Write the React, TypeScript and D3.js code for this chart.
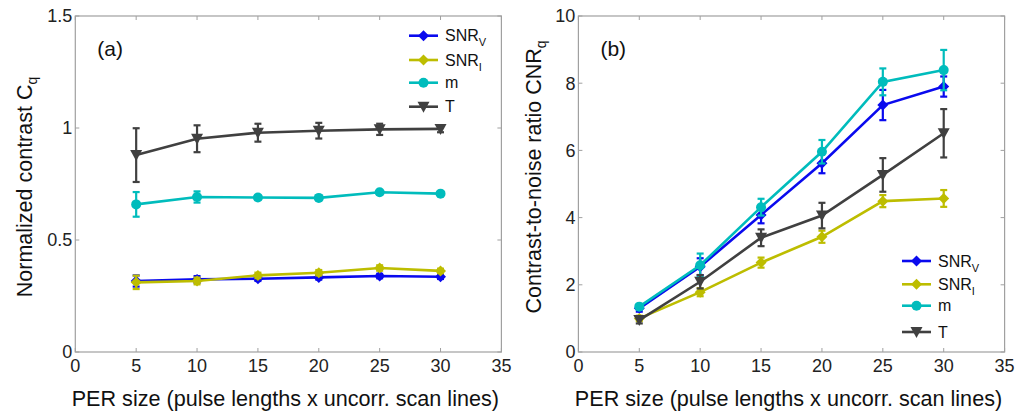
import React from "react";
import * as d3 from "d3";

const xs = [5, 10, 15, 20, 25, 30];
const xTicks = [0, 5, 10, 15, 20, 25, 30, 35];

// Panel (a): normalized contrast
const snrvA = [0.317, 0.324, 0.327, 0.333, 0.339, 0.336];
const snrvAErr = [0.025, 0.015, 0.01, 0.01, 0.01, 0.01];
const snriA = [0.311, 0.317, 0.342, 0.354, 0.375, 0.362];
const snriAErr = [0.03, 0.015, 0.012, 0.012, 0.012, 0.01];
const mA = [0.659, 0.692, 0.69, 0.688, 0.713, 0.707];
const mAErr = [0.055, 0.025, 0.01, 0.01, 0.01, 0.01];
const tA = [0.879, 0.952, 0.979, 0.988, 0.994, 0.996];
const tAErr = [0.12, 0.06, 0.04, 0.035, 0.025, 0.015];
const yTicksA = [0, 0.5, 1, 1.5];

// Panel (b): CNR
const snrvB = [1.3, 2.54, 4.08, 5.62, 7.35, 7.9];
const snrvBErr = [0.1, 0.25, 0.25, 0.3, 0.45, 0.3];
const snriB = [1.0, 1.78, 2.66, 3.43, 4.49, 4.57];
const snriBErr = [0.08, 0.12, 0.15, 0.18, 0.18, 0.25];
const mB = [1.35, 2.58, 4.31, 5.96, 8.04, 8.39];
const mBErr = [0.08, 0.35, 0.25, 0.35, 0.4, 0.6];
const tB = [0.95, 2.09, 3.4, 4.06, 5.27, 6.51];
const tBErr = [0.1, 0.2, 0.25, 0.38, 0.5, 0.72];
const yTicksB = [0, 2, 4, 6, 8, 10];

const seriesNames = ["SNRV", "SNRI", "m", "T"];
const colors = ["#0a0aee", "#bdbd00", "#00bcbc", "#404040"];
const markers = ["diamond", "diamond", "circle", "tri"];

const FONT = "'Liberation Sans', Arial, sans-serif";

function Marker({ kind, x, y, color }: { kind: string; x: number; y: number; color: string }) {
  if (kind === "circle") return <circle cx={x} cy={y} r={5} fill={color} />;
  if (kind === "diamond") {
    const s = 5.5;
    return <path d={`M${x},${y - s}L${x + s},${y}L${x},${y + s}L${x - s},${y}Z`} fill={color} />;
  }
  const w = 6, h = 5;
  return <path d={`M${x - w},${y - h}L${x + w},${y - h}L${x},${y + h + 1}Z`} fill={color} />;
}

function LegendLabel({ name }: { name: string }) {
  if (name === "SNRV" || name === "SNRI") {
    return (
      <>
        SNR<tspan fontSize={11} dy={5}>{name.slice(3)}</tspan>
      </>
    );
  }
  return <>{name}</>;
}

function Panel({
  x0, x1, yMax, yTicks, data, errs, tag, yLabel, yLabelX, yLabelY, legend, tickFmt,
}: {
  x0: number; x1: number; yMax: number; yTicks: number[]; data: number[][]; errs: number[][];
  tag: string; yLabel: string; yLabelX: number; yLabelY: number; legend: { x: number; ys: number[] }; tickFmt: (v: number) => string;
}) {
  const top = 16, bottom = 352;
  const x = d3.scaleLinear().domain([0, 35]).range([x0, x1]);
  const y = d3.scaleLinear().domain([0, yMax]).range([bottom, top]);
  const line = d3.line<number>().x((_, i) => x(xs[i])).y((v) => y(v));
  const axisColor = "#a0a0a0";
  const tl = 4;
  return (
    <g>
      <rect x={x0} y={top} width={x1 - x0} height={bottom - top} fill="none" stroke={axisColor} strokeWidth={1.2} />
      {xTicks.map((t) => (
        <g key={"xt" + t}>
          <line x1={x(t)} x2={x(t)} y1={bottom} y2={bottom - tl} stroke={axisColor} />
          <line x1={x(t)} x2={x(t)} y1={top} y2={top + tl} stroke={axisColor} />
          <text x={x(t)} y={372} textAnchor="middle" fontFamily={FONT} fontSize={18} fill="#222">
            {t}
          </text>
        </g>
      ))}
      {yTicks.map((t) => (
        <g key={"yt" + t}>
          <line x1={x0} x2={x0 + tl} y1={y(t)} y2={y(t)} stroke={axisColor} />
          <line x1={x1} x2={x1 - tl} y1={y(t)} y2={y(t)} stroke={axisColor} />
          <text x={x0 - 3} y={y(t)} dy="0.36em" textAnchor="end" fontFamily={FONT} fontSize={18} fill="#222">
            {tickFmt(t)}
          </text>
        </g>
      ))}
      {data.map((vals, si) => (
        <g key={"s" + si}>
          <path d={line(vals) || ""} fill="none" stroke={colors[si]} strokeWidth={2.6} />
          {vals.map((v, i) => {
            const e = errs[si][i];
            const cx = x(xs[i]);
            return (
              <g key={i}>
                <line x1={cx} x2={cx} y1={y(v - e)} y2={y(v + e)} stroke={colors[si]} strokeWidth={2.2} />
                <line x1={cx - 3.5} x2={cx + 3.5} y1={y(v - e)} y2={y(v - e)} stroke={colors[si]} strokeWidth={2.2} />
                <line x1={cx - 3.5} x2={cx + 3.5} y1={y(v + e)} y2={y(v + e)} stroke={colors[si]} strokeWidth={2.2} />
                <Marker kind={markers[si]} x={cx} y={y(v)} color={colors[si]} />
              </g>
            );
          })}
        </g>
      ))}
      <text x={x0 + 22} y={56} fontFamily={FONT} fontSize={21} fill="#111">
        {tag}
      </text>
      <text
        transform={`translate(${yLabelX},${yLabelY}) rotate(-90)`}
        textAnchor="middle"
        fontFamily={FONT}
        fontSize={21.5}
        fill="#111"
      >
        {yLabel}
        <tspan fontSize={14} dy={5}>q</tspan>
      </text>
      <text x={(x0 + x1) / 2 - 3} y={406} textAnchor="middle" fontFamily={FONT} fontSize={21.6} fill="#111">
        PER size (pulse lengths x uncorr. scan lines)
      </text>
      {seriesNames.map((n, si) => {
        const ly = legend.ys[si];
        return (
          <g key={"lg" + n}>
            <line x1={legend.x} x2={legend.x + 29} y1={ly} y2={ly} stroke={colors[si]} strokeWidth={2.6} />
            <Marker kind={markers[si]} x={legend.x + 14.5} y={ly} color={colors[si]} />
            <text x={legend.x + 36} y={ly} dy="0.36em" fontFamily={FONT} fontSize={16} fill="#111">
              <LegendLabel name={n} />
            </text>
          </g>
        );
      })}
    </g>
  );
}

export default function App() {
  return (
    <svg
      width={1018}
      height={414}
      style={{ position: "absolute", left: 0, top: 0, background: "#fff" }}
    >
      <rect width={1018} height={414} fill="#fff" />
      <Panel
        x0={75.3}
        x1={501.4}
        yMax={1.5}
        yTicks={yTicksA}
        data={[snrvA, snriA, mA, tA]}
        errs={[snrvAErr, snriAErr, mAErr, tAErr]}
        tag="(a)"
        yLabel="Normalized contrast C"
        yLabelX={32}
        yLabelY={187}
        legend={{ x: 409, ys: [35.7, 60, 82.7, 106.7] }}
        tickFmt={(v) => String(v)}
      />
      <Panel
        x0={578.4}
        x1={1004.6}
        yMax={10}
        yTicks={yTicksB}
        data={[snrvB, snriB, mB, tB]}
        errs={[snrvBErr, snriBErr, mBErr, tBErr]}
        tag="(b)"
        yLabel="Contrast-to-noise ratio CNR"
        yLabelX={541}
        yLabelY={177}
        legend={{ x: 902, ys: [261, 284.3, 305.7, 332] }}
        tickFmt={(v) => String(v)}
      />
    </svg>
  );
}
